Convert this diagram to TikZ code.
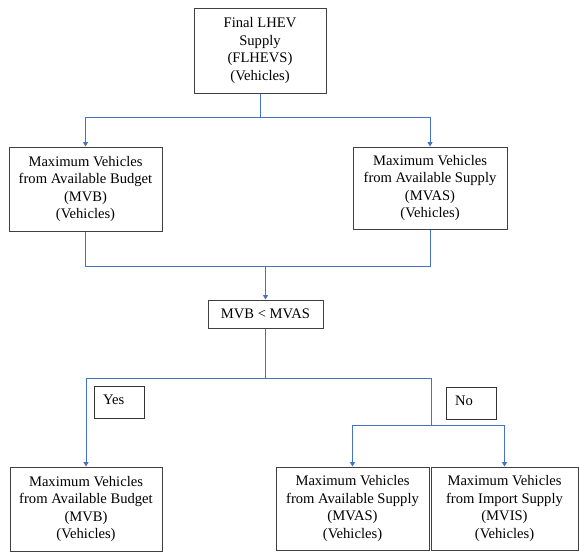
\documentclass[tikz,border=0pt]{standalone}
\usepackage{fontspec}
\setmainfont{Liberation Serif}
\usetikzlibrary{arrows.meta}
\definecolor{linkblue}{RGB}{68,114,196}
\tikzset{
  box/.style={draw=black!75,line width=1pt,align=center,inner sep=2pt,
    font=\fontsize{14.6}{17.5}\selectfont},
  tagbox/.style={draw=black!80,line width=1pt,anchor=north west,align=left,
    text width=33pt,inner xsep=8.5pt,text height=10pt,text depth=7pt,inner ysep=7.5pt,
    font=\fontsize{14.6}{17.5}\selectfont},
  link/.style={linkblue,line width=1pt},
  arrow/.style={link,-{Triangle[width=5pt,length=4.5pt]}}
}
\begin{document}
\begin{tikzpicture}[x=1pt,y=-1pt]
  \useasboundingbox (0,0) rectangle (579,552); %picture frame
  % boxes
  \node[box,minimum width=132pt,minimum height=85pt] (flhevs) at (260,50.5) {Final LHEV\\Supply\\(FLHEVS)\\(Vehicles)};
  \node[box,minimum width=153pt,minimum height=84pt] (mvb) at (85.5,189) {Maximum Vehicles\\from Available Budget\\(MVB)\\(Vehicles)};
  \node[box,minimum width=154pt,minimum height=82pt] (mvas) at (430,188) {Maximum Vehicles\\from Available Supply\\(MVAS)\\(Vehicles)};
  \node[box,minimum width=115pt,minimum height=28pt] (check) at (265.5,314) {MVB < MVAS};
  \node[tagbox] (yes) at (94,386) {Yes};
  \node[tagbox] (no) at (446,387) {No};
  \node[box,minimum width=152pt,minimum height=84pt] (resmvb) at (86,509) {Maximum Vehicles\\from Available Budget\\(MVB)\\(Vehicles)};
  \node[box,minimum width=153pt,minimum height=83pt] (resmvas) at (352.5,508.5) {Maximum Vehicles\\from Available Supply\\(MVAS)\\(Vehicles)};
  \node[box,minimum width=147pt,minimum height=83pt] (resmvis) at (504.5,508.5) {Maximum Vehicles\\from Import Supply\\(MVIS)\\(Vehicles)};
  % junctions
  \coordinate (split) at (260,117);
  \coordinate (merge) at (265.5,266);
  \coordinate (branch) at (265.5,378);
  \coordinate (nosplit) at (431,425);
  % connectors
  \draw[link] (flhevs.south) -- (split);
  \draw[arrow] (split) -| (mvb.north);
  \draw[arrow] (split) -| (mvas.north);
  \draw[link] (mvb.south) |- (merge);
  \draw[link] (mvas.south) |- (merge);
  \draw[arrow] (merge) -- (check.north);
  \draw[link] (check.south) -- (branch);
  \draw[arrow] (branch) -| (resmvb.north); %yes
  \draw[link] (branch) -| (nosplit); %no
  \draw[arrow] (nosplit) -| (resmvas.north);
  \draw[arrow] (nosplit) -| (resmvis.north);
\end{tikzpicture}
\end{document}
